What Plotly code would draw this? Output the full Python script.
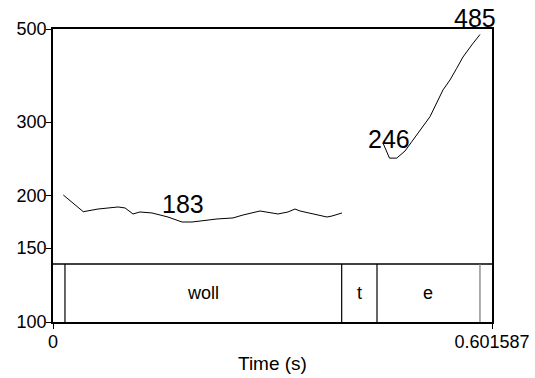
import numpy as np
import plotly.graph_objects as go

# Pitch contour (Hz) over time (s), two voiced stretches
t_seg1 = [0.0141, 0.0415, 0.0617, 0.0891, 0.0987, 0.1096, 0.1192, 0.1357, 0.1576,
          0.1768, 0.1905, 0.2014, 0.2247, 0.2467, 0.2604, 0.2837, 0.2933, 0.3083,
          0.3220, 0.3316, 0.3385, 0.3522, 0.3755, 0.3823, 0.3960]
f0_seg1 = [200.9, 183.3, 186.0, 188.1, 187.1, 181.0, 183.0, 182.0, 178.0,
           173.2, 173.2, 174.2, 176.1, 177.1, 180.0, 184.0, 183.0, 181.0,
           183.0, 186.0, 184.0, 182.0, 178.0, 179.0, 182.0]
t_seg2 = [0.4522, 0.4611, 0.4710, 0.4824, 0.4916, 0.5029, 0.5166, 0.5344, 0.5440,
          0.5532, 0.5618, 0.5738, 0.5851]
f0_seg2 = [267.3, 246.0, 246.0, 255.8, 269.2, 287.1, 308.8, 357.7, 377.8,
           402.9, 428.7, 457.9, 485.0]

# Value labels: text, time, Hz position
value_labels = ["183", "246", "485"]
label_t = [0.1788, 0.4611, 0.5781]
label_hz = [191.5, 273.0, 531.0]

# TextGrid tier: interval boundaries and labels
boundaries = [0.0164, 0.3956, 0.4440, 0.5851]
intervals = ["woll", "t", "e"]
interval_mid = [(0.0164 + 0.3956) / 2, (0.3956 + 0.4440) / 2, (0.4440 + 0.5851) / 2]

t_end = 0.601587
y_lo, y_hi = 100, 500
y_ticks = [100, 150, 200, 300, 500]

FONT = "Liberation Sans, Arial, Helvetica, sans-serif"
TIER_TOP = 0.198  # tier box top, as fraction of plot height


def frac(hz):
    """Vertical position of a frequency as a fraction of the log-scaled plot height."""
    return (np.log10(hz) - np.log10(y_lo)) / (np.log10(y_hi) - np.log10(y_lo))


fig = go.Figure()
for tt, ff in [(t_seg1, f0_seg1), (t_seg2, f0_seg2)]:
    fig.add_trace(go.Scatter(x=tt, y=ff, mode="lines",
                             line=dict(color="black", width=1),
                             showlegend=False, hoverinfo="skip"))

for txt, tx, hz in zip(value_labels, label_t, label_hz):
    fig.add_annotation(x=tx, y=frac(hz), xref="x", yref="paper", text=txt,
                       showarrow=False, font=dict(family=FONT, size=25, color="black"),
                       xanchor="center", yanchor="middle")

# tier box top line
fig.add_shape(type="line", xref="x", yref="paper", x0=0, x1=t_end,
              y0=TIER_TOP, y1=TIER_TOP, line=dict(color="black", width=1.5))
for i, b in enumerate(boundaries):
    col = "#777777" if i == len(boundaries) - 1 else "black"
    fig.add_shape(type="line", xref="x", yref="paper", x0=b, x1=b,
                  y0=0, y1=TIER_TOP, line=dict(color=col, width=1.2))
for txt, mid in zip(intervals, interval_mid):
    fig.add_annotation(x=mid, y=TIER_TOP / 2, xref="x", yref="paper", text=txt,
                       showarrow=False, font=dict(family=FONT, size=18, color="black"),
                       xanchor="center", yanchor="middle")

# axis title
fig.add_annotation(x=0.5, y=-0.14, xref="paper", yref="paper", text="Time (s)",
                   showarrow=False, font=dict(family=FONT, size=19, color="black"),
                   xanchor="center", yanchor="middle")

fig.update_layout(
    width=535, height=378,
    margin=dict(l=53, r=43, t=29, b=56, autoexpand=False),
    plot_bgcolor="white", paper_bgcolor="white",
    font=dict(family=FONT, size=18, color="black"),
    xaxis=dict(range=[0, t_end], tickvals=[0, t_end], ticktext=["0", "0.601587"],
               ticks="outside", ticklen=5, tickwidth=1.2, tickcolor="black",
               showline=True, linecolor="black", linewidth=1.5, mirror=True,
               showgrid=False, zeroline=False, automargin=False,
               ticklabelstandoff=-2),
    yaxis=dict(type="log", range=[np.log10(y_lo), np.log10(y_hi)], tickvals=y_ticks,
               ticktext=[str(v) for v in y_ticks],
               ticks="outside", ticklen=5, tickwidth=1.2, tickcolor="black",
               showline=True, linecolor="black", linewidth=1.5, mirror=True,
               showgrid=False, zeroline=False, automargin=False,
               ticklabelstandoff=-4),
)

fig.write_html("out.html")
